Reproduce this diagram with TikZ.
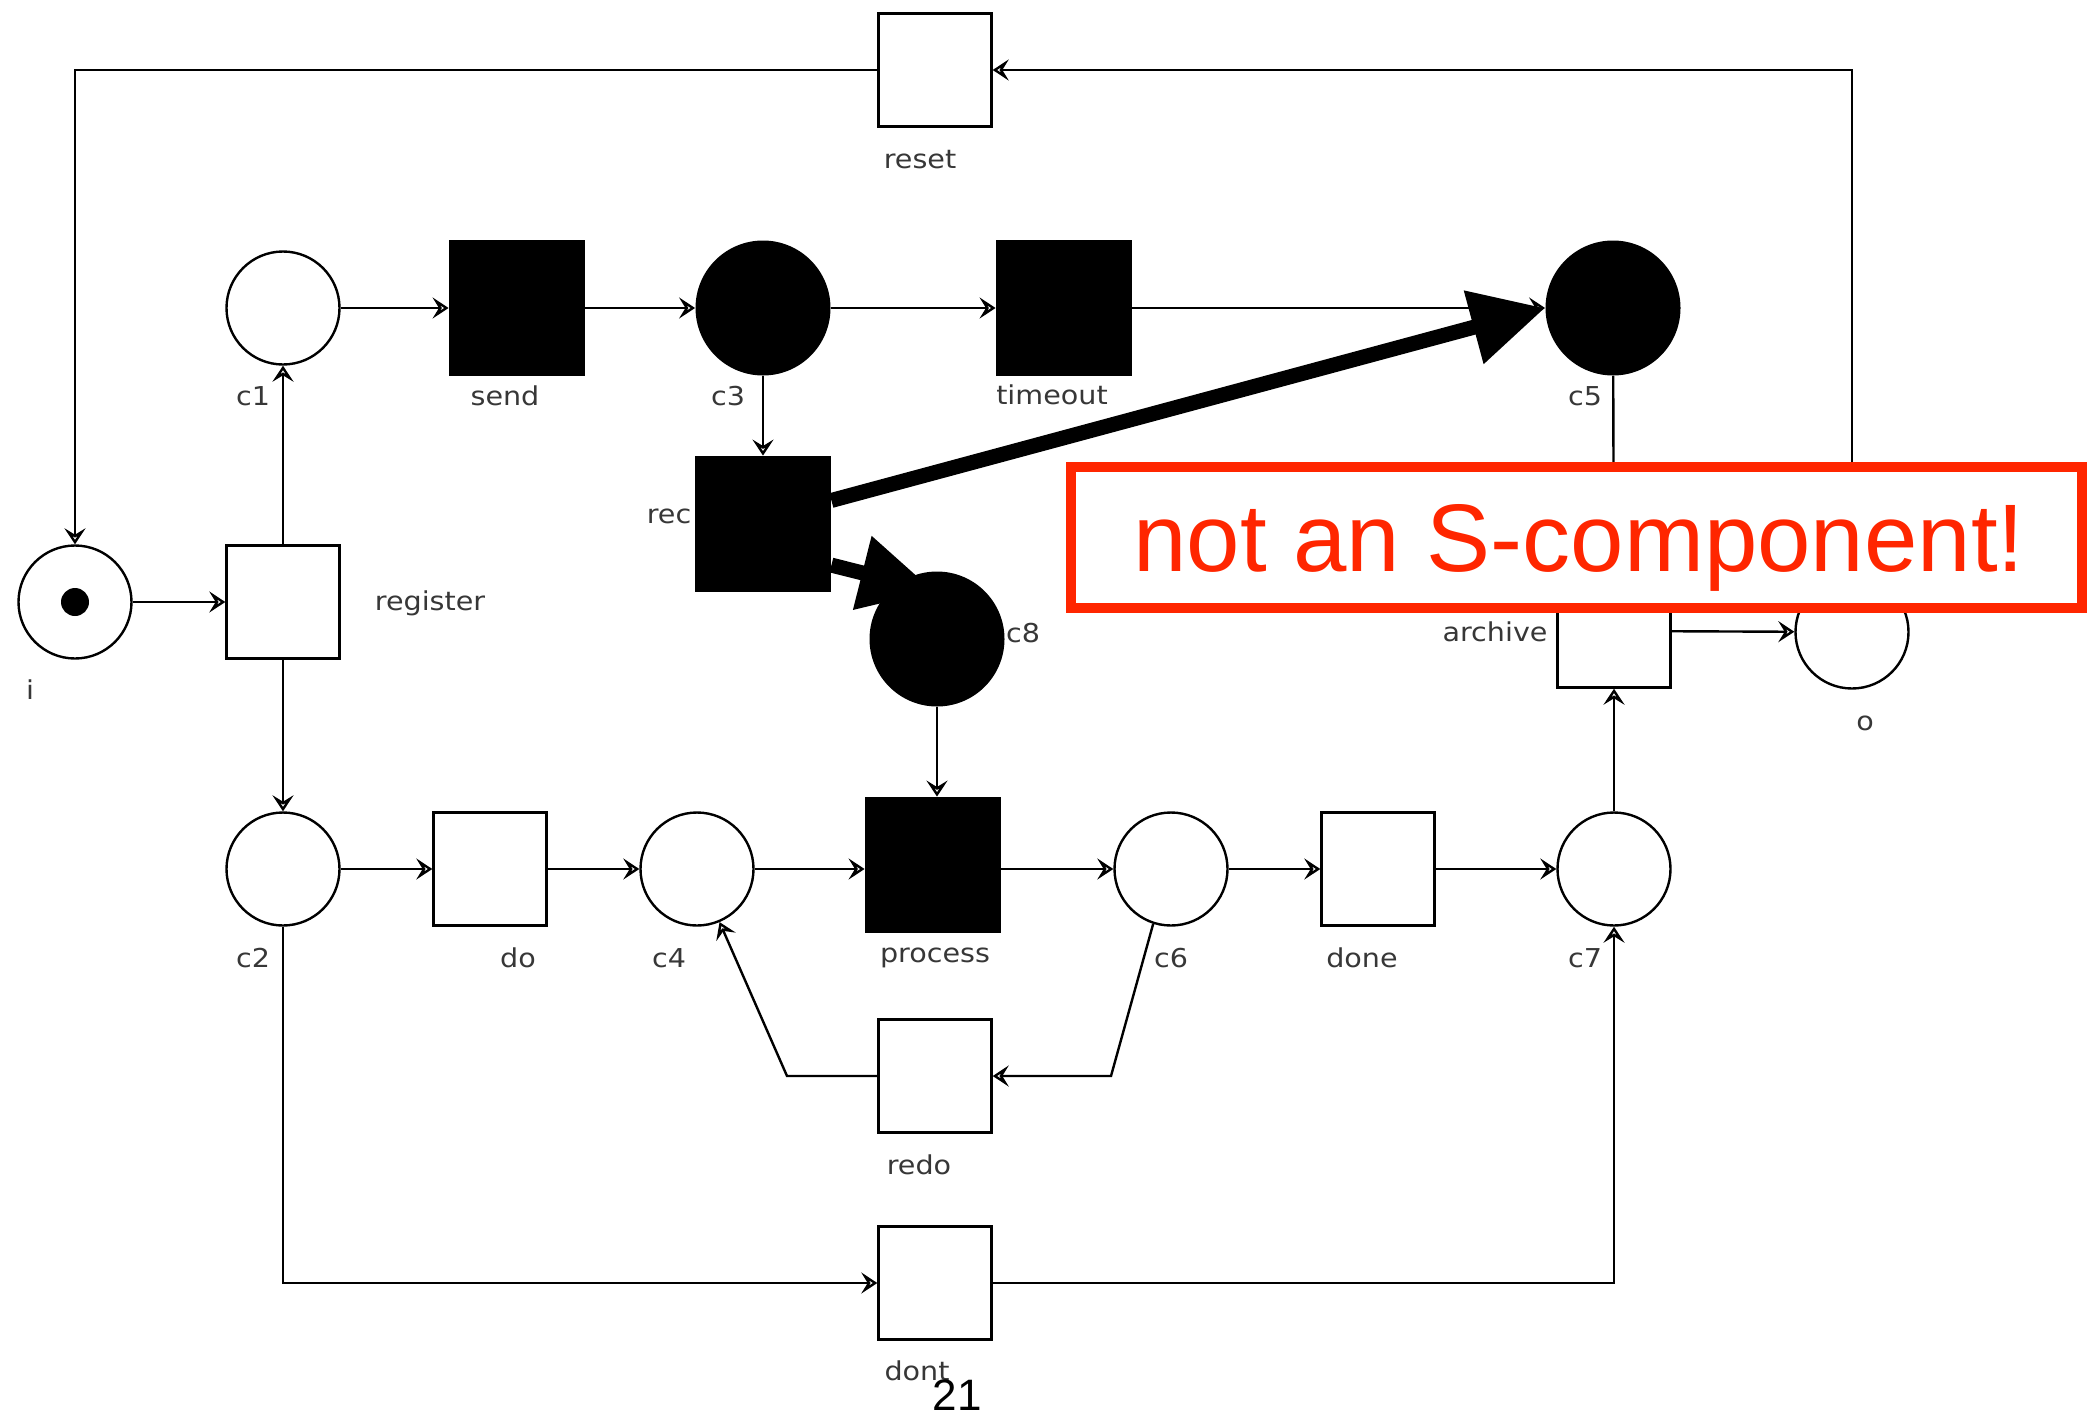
\documentclass[tikz,border=0pt]{standalone}
\usepackage{fontspec}
\setmainfont{DejaVu Sans}
\newfontfamily\lblfont[FakeStretch=1.1]{DejaVu Sans}
\newfontfamily\notefont{Liberation Sans}
\usetikzlibrary{arrows.meta}
\definecolor{alertred}{RGB}{255,38,0}
\definecolor{lblgray}{RGB}{55,55,55}
\begin{document}
\begin{tikzpicture}[x=0.5pt,y=-0.5pt,
  arc/.style={line width=1.2pt, -{Stealth[open,length=8pt,width=10.5pt,inset=3.2pt]}},
  place/.style={circle, draw, line width=1.2pt, minimum size=56.5pt, inner sep=0pt, fill=white},
  fplace/.style={circle, fill=black, minimum size=67.5pt, inner sep=0pt},
  trans/.style={rectangle, draw, line width=1.2pt, minimum size=56.5pt, inner sep=0pt, fill=white},
  ftrans/.style={rectangle, fill=black, minimum size=68pt, inner sep=0pt},
  lbl/.style={text=lblgray, font=\lblfont\fontsize{13}{15}\selectfont, inner sep=0pt},
  hot/.style={line width=7.5pt, -{Triangle[length=37pt,width=36pt]}},
]
\useasboundingbox (0,0) rectangle (2088,1414);

% places and transitions
\node[trans] (reset) at (935,70) {};
\node[place] (i) at (75,602) {};
\node[circle, fill=black, minimum size=14pt, inner sep=0pt] (token) at (i.center) {};
\node[trans] (register) at (283,602) {};
\node[place] (c1) at (283,308) {};
\node[ftrans] (send) at (517,308) {};
\node[fplace] (c3) at (763,308) {};
\node[ftrans] (timeout) at (1064,308) {};
\node[fplace] (c5) at (1613,308) {};
\node[ftrans] (rec) at (763,524) {};
\node[fplace] (c8) at (937,639) {};
\node[trans] (archive) at (1614,631) {};
\node[place] (o) at (1852,632) {};
\node[place] (c2) at (283,869) {};
\node[trans] (do) at (490,869) {};
\node[place] (c4) at (697,869) {};
\node[ftrans] (process) at (933,865) {};
\node[place] (c6) at (1171,869) {};
\node[trans] (done) at (1378,869) {};
\node[place] (c7) at (1614,869) {};
\node[trans] (redo) at (935,1076) {};
\node[trans] (dont) at (935,1283) {};

% bend points
\coordinate (k6) at (1111,1076);
\coordinate (k4) at (787,1076);
\coordinate (c8tip) at (934,591);

% arcs
\draw[arc] (o.north) |- (reset.east);
\draw[arc] (reset.west) -| (i.north);
\draw[arc] (i) -- (register);
\draw[arc] (register) -- (c1);
\draw[arc] (register) -- (c2);
\draw[arc] (c1) -- (send);
\draw[arc] (send) -- (c3);
\draw[arc] (c3) -- (timeout);
\draw[arc] (timeout) -- (c5);
\draw[arc] (c3) -- (rec);
\draw[arc] (c5) -- (archive);
\draw[arc] (c8.south) -- (c8.south |- process.north);
\draw[arc] (c2) -- (do);
\draw[arc] (do) -- (c4);
\draw[arc] (c4.east) -- (c4.east -| process.west);
\draw[arc] (c6.west -| process.east) -- (c6.west);
\draw[arc] (c6) -- (done);
\draw[arc] (done) -- (c7);
\draw[arc] (c7) -- (archive);
\draw[arc] (archive) -- (o);
\draw[arc] (c6.-108) -- (k6) -- (redo.east);
\draw[arc] (redo.west) -- (k4) -- (c4.-67);
\draw[arc] (c2.south) |- (dont.west);
\draw[arc] (dont.east) -| (c7.south);

% highlighted arcs
\draw[hot] (rec.19) -- (c5.west);
\draw[hot] (rec.-31) -- (c8tip);

% labels
\node[lbl] (lreset) at (920,160) {reset};
\node[lbl] (lc1) at (253,396) {c1};
\node[lbl] (lsend) at (505,396) {send};
\node[lbl] (lc3) at (728,396) {c3};
\node[lbl] (ltimeout) at (1052,395) {timeout};
\node[lbl] (lc5) at (1585,396) {c5};
\node[lbl] (lrec) at (669,516) {rec};
\node[lbl] (lregister) at (430,603) {register};
\node[lbl] (lc8) at (1023,633) {c8};
\node[lbl] (li) at (30,690) {i};
\node[lbl] (larchive) at (1495,632) {archive};
\node[lbl] (lo) at (1865,723) {o};
\node[lbl] (lc2) at (253,958) {c2};
\node[lbl] (ldo) at (518,958) {do};
\node[lbl] (lc4) at (669,958) {c4};
\node[lbl] (lprocess) at (935,958) {process};
\node[lbl] (lc6) at (1171,958) {c6};
\node[lbl] (ldone) at (1362,958) {done};
\node[lbl] (lc7) at (1585,958) {c7};
\node[lbl] (lredo) at (919,1165) {redo};
\node[lbl] (ldont) at (917,1371) {dont};

% callout
\node[draw=alertred, line width=5pt, fill=white, minimum width=505.5pt, minimum height=70.5pt, inner sep=0pt] (note) at (1576.5,537.5) {};
\node[text=alertred, font=\notefont\fontsize{48}{50}\selectfont, inner sep=0pt, anchor=base] (notetext) at (1579,571) {not an S-component!};

% page number
\node[font=\notefont\fontsize{22}{24}\selectfont, inner sep=0pt, anchor=base] (pagenum) at (957,1410) {21};
\end{tikzpicture}
\end{document}
